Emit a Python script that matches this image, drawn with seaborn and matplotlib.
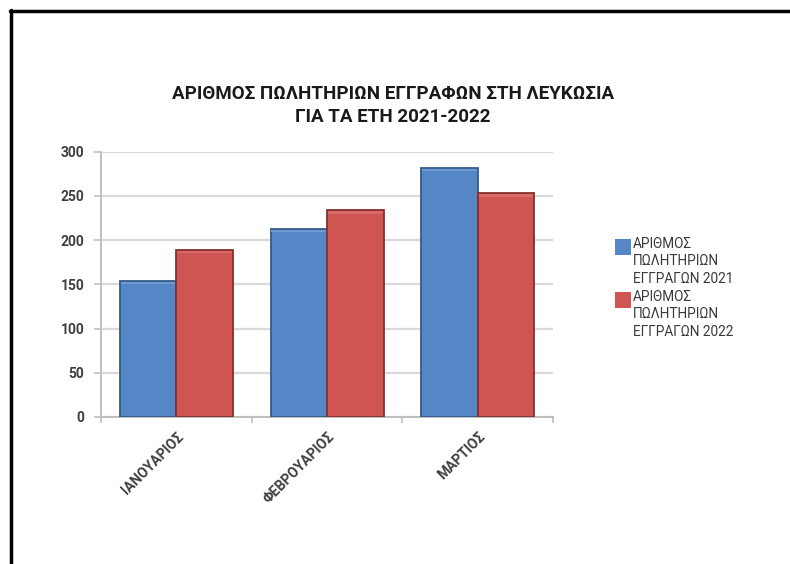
import matplotlib
matplotlib.use("Agg")
import matplotlib.pyplot as plt
from matplotlib.lines import Line2D
from matplotlib.patches import Rectangle
import seaborn as sns
import pandas as pd

# Monthly counts of registered sale contracts in Nicosia
months = ["ΙΑΝΟΥΑΡΙΟΣ", "ΦΕΒΡΟΥΑΡΙΟΣ", "ΜΑΡΤΙΟΣ"]
series_names = ["ΑΡΙΘΜΟΣ\nΠΩΛΗΤΗΡΙΩΝ\nΕΓΓΡΑΓΩΝ 2021",
                "ΑΡΙΘΜΟΣ\nΠΩΛΗΤΗΡΙΩΝ\nΕΓΓΡΑΓΩΝ 2022"]
values_2021 = [154, 213, 282]
values_2022 = [189, 234, 253]
y_ticks = [0, 50, 100, 150, 200, 250, 300]
title_text = "ΑΡΙΘΜΟΣ ΠΩΛΗΤΗΡΙΩΝ ΕΓΓΡΑΦΩΝ ΣΤΗ ΛΕΥΚΩΣΙΑ\nΓΙΑ ΤΑ ΕΤΗ 2021-2022"

colors = ["#5587C6", "#CF5553"]
edge_colors = ["#36598A", "#84302E"]
top_colors = ["#6E9AD2", "#DA6B69"]

df = pd.DataFrame({
    "month": months * 2,
    "series": [series_names[0]] * 3 + [series_names[1]] * 3,
    "value": values_2021 + values_2022,
})

sns.set_theme(style="white")
bold_font = ["Roboto", "DejaVu Sans"]
plain_font = ["Roboto", "DejaVu Sans"]

W, H = 790, 564
fig = plt.figure(figsize=(W / 100, H / 100), dpi=100)
ax = fig.add_axes([101 / W, 1 - 417 / H, (553 - 101) / W, (417 - 151.7) / H])

sns.barplot(data=df, x="month", y="value", hue="series", order=months,
            hue_order=series_names, palette=colors, width=0.75,
            saturation=1, dodge=True, ax=ax, legend=False, zorder=3)

# bevelled look: darker rim plus a lighter strip along the top of each bar
px = 300 / (417 - 151.7)  # data units per pixel on the y axis
for i, container in enumerate(ax.containers):
    for bar in container:
        bar.set_edgecolor(edge_colors[i])
        bar.set_linewidth(1.3)
        x0, w, h = bar.get_x(), bar.get_width(), bar.get_height()
        ax.add_patch(Rectangle((x0 + 0.006, h - 3.5 * px), w - 0.012, 2.5 * px,
                               facecolor=top_colors[i], edgecolor="none",
                               zorder=4))

ax.set_ylim(0, 300)
ax.set_xlim(-0.5, 2.5)
ax.set_yticks(y_ticks)
ax.set_yticklabels([str(t) for t in y_ticks], fontfamily=bold_font,
                   fontweight="bold", fontsize=10, color="#404040")
ax.yaxis.grid(True, color="#D9D9D9", linewidth=1.6, zorder=0)
ax.xaxis.grid(False)
ax.set_axisbelow(True)

ax.set_xticks(range(len(months)))
ax.set_xticklabels(months, rotation=45, ha="right", rotation_mode="anchor",
                   fontfamily=bold_font, fontweight="bold", fontsize=10,
                   color="#404040")
ax.tick_params(axis="x", which="major", length=0, pad=9)
ax.set_xticks([-0.5, 0.5, 1.5, 2.5], minor=True)
ax.tick_params(axis="x", which="minor", length=4, color="#BFBFBF", width=1.2,
               direction="out", bottom=True)
ax.tick_params(axis="y", length=5, color="#BFBFBF", width=1.2, pad=7,
               direction="out", left=True)
ax.set_xlabel("")
ax.set_ylabel("")

for side in ["top", "right"]:
    ax.spines[side].set_visible(False)
for side in ["left", "bottom"]:
    ax.spines[side].set_color("#BFBFBF")
    ax.spines[side].set_linewidth(1.4)

# title
fig.text(393 / W, 1 - 105.5 / H, title_text, ha="center", va="center",
         fontfamily=bold_font, fontweight="bold", fontsize=13.5,
         color="#1A1A1A", linespacing=1.4)

# legend: colour squares with three-line labels
legend_y = [237, 290]
for i, name in enumerate(series_names):
    y0 = legend_y[i]
    fig.patches.append(Rectangle((615 / W, 1 - (y0 + 18) / H), 16 / W, 16 / H,
                                 transform=fig.transFigure,
                                 facecolor=colors[i], edgecolor="none"))
    fig.text(633 / W, 1 - y0 / H, name, ha="left", va="top",
             fontfamily=plain_font, fontweight="normal", fontsize=9.8,
             color="#3A3A3A", linespacing=1.3)

# page frame
fig.add_artist(Line2D([11 / W, 11 / W], [0, 1 - 10 / H], color="black",
                      linewidth=2.5, transform=fig.transFigure))
fig.add_artist(Line2D([10 / W, 1], [1 - 10.5 / H, 1 - 10.5 / H], color="black",
                      linewidth=2.5, transform=fig.transFigure))

fig.savefig("out.png", dpi=100, facecolor="white")
